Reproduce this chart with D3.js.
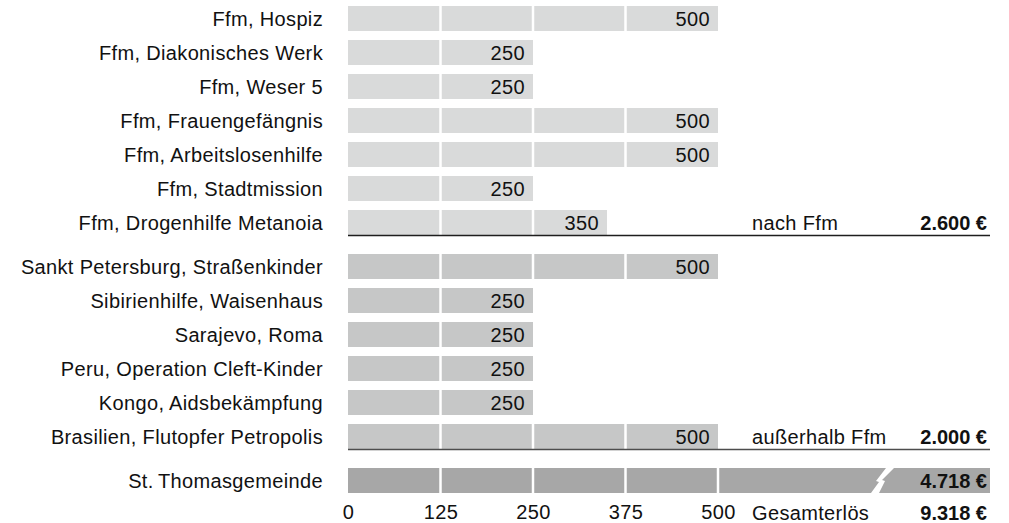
<!DOCTYPE html>
<html lang="de">
<head>
<meta charset="UTF-8">
<title>Spenden</title>
<script src="https://cdnjs.cloudflare.com/ajax/libs/d3/7.8.5/d3.min.js"></script>
<style>
    html, body { margin: 0; padding: 0; background: #fff; }
    svg text { font-family: "Liberation Sans", Arial, Helvetica, sans-serif; font-size: 20px; letter-spacing: 0.35px; fill: #111; }
    .bold { font-weight: bold; letter-spacing: 0; }
</style>
</head>
<body>
<div id="chart"></div>
<script>
// data
const ffmLabels = ["Ffm, Hospiz", "Ffm, Diakonisches Werk", "Ffm, Weser 5", "Ffm, Frauengefängnis",
    "Ffm, Arbeitslosenhilfe", "Ffm, Stadtmission", "Ffm, Drogenhilfe Metanoia"];
const ffmValues = [500, 250, 250, 500, 500, 250, 350];
const outLabels = ["Sankt Petersburg, Straßenkinder", "Sibirienhilfe, Waisenhaus", "Sarajevo, Roma",
    "Peru, Operation Cleft-Kinder", "Kongo, Aidsbekämpfung", "Brasilien, Flutopfer Petropolis"];
const outValues = [500, 250, 250, 250, 250, 500];
const gemeindeLabel = "St.\u2009Thomasgemeinde";
const gemeindeValue = 4718;
const totals = [["nach Ffm", "2.600 €"], ["außerhalb Ffm", "2.000 €"], ["Gesamterlös", "9.318 €"]];
const tickValues = [0, 125, 250, 375, 500];

const width = 1009, height = 523;
const svg = d3.select("#chart").append("svg").attr("width", width).attr("height", height);

const x = d3.scaleLinear().domain([0, 500]).range([348, 718]);
const rightEdge = 990;
const rowStep = d3.scaleLinear().domain([0, 1]).range([6, 40]);
const barH = 25;
const groupGap = 10;
const yRow = (i, g) => rowStep(i) + g * groupGap;

const rows = [];
ffmLabels.forEach((l, i) => rows.push({ label: l, value: ffmValues[i], g: 0, i: i, color: "#d9dada" }));
outLabels.forEach((l, i) => rows.push({ label: l, value: outValues[i], g: 1, i: i + ffmLabels.length, color: "#c6c7c7" }));

// row labels
svg.append("g").selectAll("text").data(rows).join("text")
    .attr("x", 323).attr("y", d => yRow(d.i, d.g) + barH / 2).attr("dy", "0.36em")
    .attr("text-anchor", "end").text(d => d.label);

// bars
const bar = svg.append("g").selectAll("g").data(rows).join("g");
bar.append("rect")
    .attr("x", x(0)).attr("y", d => yRow(d.i, d.g))
    .attr("width", d => x(d.value) - x(0)).attr("height", barH)
    .attr("fill", d => d.color);
bar.selectAll("line").data(d => tickValues.filter(t => t > 0 && t < d.value).map(t => ({ t, d }))).join("line")
    .attr("x1", e => x(e.t)).attr("x2", e => x(e.t))
    .attr("y1", e => yRow(e.d.i, e.d.g)).attr("y2", e => yRow(e.d.i, e.d.g) + barH)
    .attr("stroke", "#fff").attr("stroke-width", 2.5);
bar.append("text")
    .attr("x", d => x(d.value) - 8).attr("y", d => yRow(d.i, d.g) + barH / 2).attr("dy", "0.36em")
    .attr("text-anchor", "end").text(d => d.value);

// separator lines
const sep = [[ffmLabels.length - 1, 0, "#1e1e1e"], [ffmLabels.length + outLabels.length - 1, 1, "#4d4d4d"]];
svg.append("g").selectAll("line").data(sep).join("line")
    .attr("x1", x(0)).attr("x2", rightEdge)
    .attr("y1", d => yRow(d[0], d[1]) + barH + 0.5).attr("y2", d => yRow(d[0], d[1]) + barH + 0.5)
    .attr("stroke", d => d[2]).attr("stroke-width", 1.6);

// Gemeinde bar (broken)
const gi = ffmLabels.length + outLabels.length;
const gy = yRow(gi, 2);
svg.append("text").attr("x", 323).attr("y", gy + barH / 2).attr("dy", "0.36em")
    .attr("text-anchor", "end").text(gemeindeLabel);
svg.append("rect").attr("x", x(0)).attr("y", gy).attr("width", rightEdge - x(0)).attr("height", barH)
    .attr("fill", "#a7a7a7");
svg.append("g").selectAll("line").data(tickValues.filter(t => t > 0)).join("line")
    .attr("x1", d => x(d)).attr("x2", d => x(d)).attr("y1", gy).attr("y2", gy + barH)
    .attr("stroke", "#fff").attr("stroke-width", 2.5);
svg.append("polygon")
    .attr("points", [[886, gy], [894, gy], [882, gy + 12], [885, gy + 13], [879, gy + barH], [871, gy + barH], [879, gy + 14], [876, gy + 13]].join(" "))
    .attr("fill", "#fff");
svg.append("text").attr("class", "bold").attr("x", 987).attr("y", gy + barH / 2).attr("dy", "0.36em")
    .attr("text-anchor", "end").text(d3.format(",")(gemeindeValue).replace(",", ".") + " €");

// axis
const axisY = yRow(gi + 1, 2) - 2;
const axis = svg.append("g").attr("transform", `translate(0,${axisY})`)
    .call(d3.axisBottom(x).tickValues(tickValues).tickSize(0).tickPadding(0).tickFormat(d3.format("d")));
axis.select(".domain").remove();
axis.selectAll("text").attr("y", barH / 2).attr("dy", "0.34em")
    .style("font-size", "20px").style("font-family", "'Liberation Sans', Arial, sans-serif").attr("fill", "#111");

// totals column
const totalRows = [yRow(ffmLabels.length - 1, 0), yRow(gi - 1, 1), axisY];
const tot = svg.append("g").selectAll("g").data(totals).join("g");
tot.append("text").attr("x", 752).attr("y", (d, i) => totalRows[i] + barH / 2).attr("dy", "0.36em").text(d => d[0]);
tot.append("text").attr("class", "bold").attr("x", 987).attr("y", (d, i) => totalRows[i] + barH / 2).attr("dy", "0.36em")
    .attr("text-anchor", "end").text(d => d[1]);
</script>
</body>
</html>
